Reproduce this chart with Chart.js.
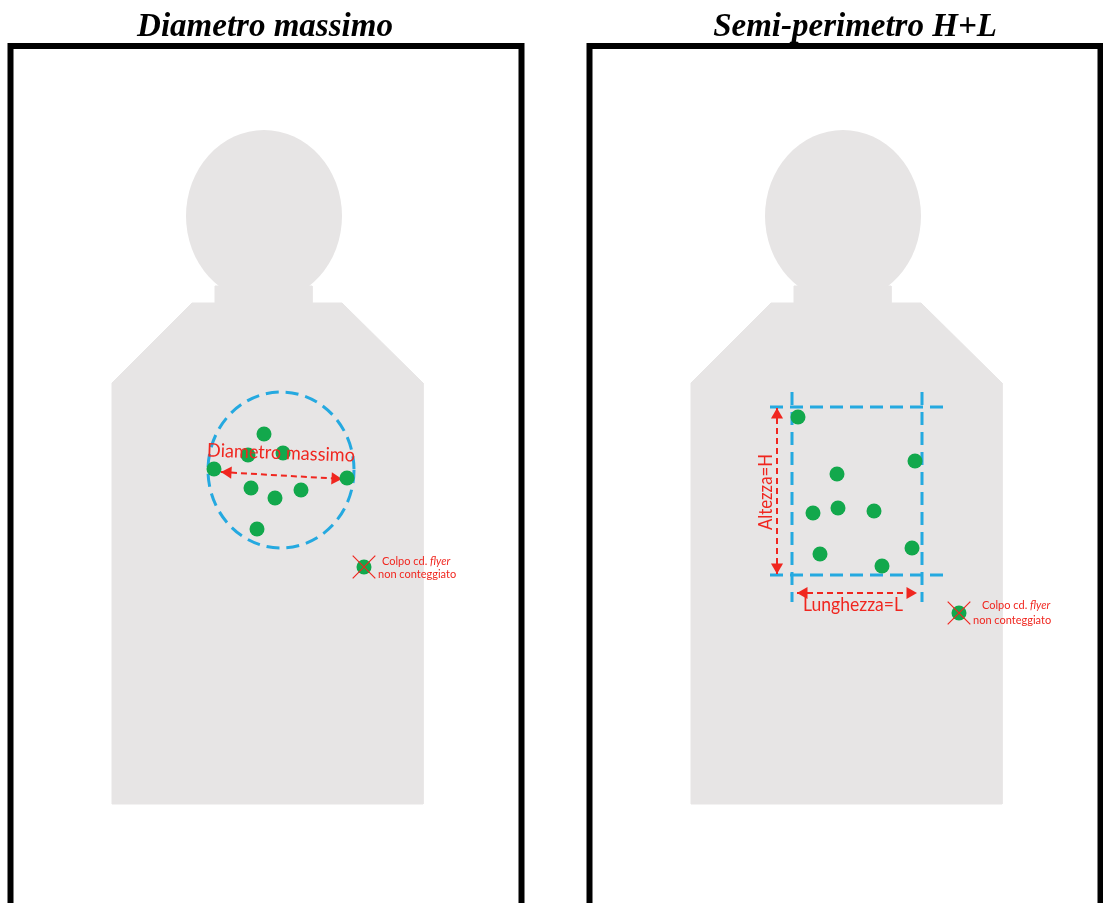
<!DOCTYPE html>
<html><head><meta charset="utf-8">
<script src="https://cdn.jsdelivr.net/npm/chart.js@4/dist/chart.umd.min.js"></script>
<style>
html,body{margin:0;padding:0;background:#fff;overflow:hidden;width:1103px;height:903px;}
.panel{position:absolute;top:0;width:540px;height:903px;}
canvas{display:block;}
</style></head><body>
<div class="panel" style="left:0"><canvas id="c1" width="540" height="903"></canvas></div>
<div class="panel" style="left:579px"><canvas id="c2" width="540" height="903"></canvas></div>
<script>
// ---------- data (panel coordinates) ----------
const panelTitles = ['Diametro massimo', 'Semi-perimetro H+L'];
const frameX = [10.5, 10.5, 521.5, 521.5];
const frameY = [940, 46, 46, 940];
const bodyX = [112, 192, 215, 215, 312, 312, 342, 423, 423, 112, 112];
const bodyY = [383, 303, 303, 286, 286, 303, 303, 383, 804, 804, 383];
const headCenter = [264, 216];
const headRadius = [78, 86];

// left: maximum diameter
const leftShotX = [264, 248, 283, 214, 347, 251, 275, 301, 257];
const leftShotY = [434, 455, 453, 469, 478, 488, 498, 490, 529];
const leftCircleCenter = [281, 470];
const leftCircleRadius = [73, 78];
const leftArrowX = [221, 342];
const leftArrowY = [472, 479];
const leftFlyerX = [364];
const leftFlyerY = [567];

// right: semi-perimeter H+L
const rightShotX = [219, 336, 258, 234, 259, 295, 241, 333, 303];
const rightShotY = [417, 461, 474, 513, 508, 511, 554, 548, 566];
const boxX = [213, 343];
const boxY = [407, 575];
const boxGuideX = [191, 370];
const boxGuideY = [392, 602];
const heightArrowX = [198, 198];
const heightArrowY = [408, 574];
const lengthArrowX = [218, 338];
const lengthArrowY = [593, 593];
const rightFlyerX = [380];
const rightFlyerY = [613];

// ---------- styles ----------
const GREEN = '#12a84c', BLUE = '#25a9e0', RED = '#f0261f', SIL = '#e7e5e5';

const pts = (xs, ys) => xs.map((x, i) => ({x, y: ys[i]}));

function lineDS(xs, ys, color, width, dash, order) {
  return {data: pts(xs, ys), showLine: true, borderColor: color, borderWidth: width,
    borderDash: dash || [], pointRadius: 0, fill: false, tension: 0, order,
    borderJoinStyle: 'miter', borderCapStyle: 'butt'};
}
function arrowHeads(xs, ys, color, r, order) {
  const dx = xs[1] - xs[0], dy = ys[1] - ys[0], len = Math.hypot(dx, dy);
  const ux = dx / len, uy = dy / len;
  const rot = Math.atan2(ux, -uy) * 180 / Math.PI;
  return {data: [{x: xs[0] + ux * r, y: ys[0] + uy * r}, {x: xs[1] - ux * r, y: ys[1] - uy * r}],
    showLine: false, pointStyle: 'triangle', pointRadius: r, pointRotation: [rot + 180, rot],
    backgroundColor: color, borderColor: color, borderWidth: 0, order};
}
function shotsDS(xs, ys, order) {
  return {data: pts(xs, ys), showLine: false, pointStyle: 'circle', pointRadius: 7.5,
    backgroundColor: GREEN, borderWidth: 0, order};
}
function flyerDS(xs, ys) {
  return [shotsDS(xs, ys, 2),
    {data: pts(xs, ys), showLine: false, pointStyle: 'crossRot', pointRadius: 16,
      borderColor: RED, borderWidth: 1.2, backgroundColor: RED, order: 1}];
}
function baseDS() {
  return [
    lineDS(frameX, frameY, '#000', 6, [], 20),
    Object.assign(lineDS(bodyX, bodyY, SIL, 1, [], 19), {fill: 'shape', backgroundColor: SIL, id: 'body'})
  ];
}

const drawPlugin = {
  id: 'targetDraw',
  beforeDatasetsDraw(chart, args, o) {
    const ctx = chart.ctx, X = chart.scales.x, Y = chart.scales.y;
    ctx.save();
    ctx.fillStyle = SIL;
    ctx.beginPath();
    const cx = X.getPixelForValue(headCenter[0]), cy = Y.getPixelForValue(headCenter[1]);
    ctx.ellipse(cx, cy, Math.abs(X.getPixelForValue(headCenter[0] + headRadius[0]) - cx),
      Math.abs(Y.getPixelForValue(headCenter[1] + headRadius[1]) - cy), 0, 0, Math.PI * 2);
    ctx.fill();
    ctx.restore();
  },
  afterDatasetDraw(chart, args, o) {
    const ds = chart.data.datasets[args.index];
    if (ds.id !== 'body' || !o.circle) return;
    const ctx = chart.ctx, X = chart.scales.x, Y = chart.scales.y;
    const c = o.circle;
    ctx.save();
    ctx.strokeStyle = BLUE; ctx.lineWidth = 3; ctx.setLineDash([13, 7]);
    const cx = X.getPixelForValue(c.center[0]), cy = Y.getPixelForValue(c.center[1]);
    ctx.beginPath();
    ctx.ellipse(cx, cy, Math.abs(X.getPixelForValue(c.center[0] + c.radius[0]) - cx),
      Math.abs(Y.getPixelForValue(c.center[1] + c.radius[1]) - cy), 0, 0, Math.PI * 2);
    ctx.stroke();
    ctx.restore();
  },
  afterDraw(chart, args, o) {
    const ctx = chart.ctx, X = chart.scales.x, Y = chart.scales.y;
    ctx.save();
    // title
    ctx.fillStyle = '#000';
    ctx.font = 'italic bold 33px "Liberation Serif", "DejaVu Serif", serif';
    ctx.textAlign = 'center'; ctx.textBaseline = 'alphabetic';
    ctx.fillText(o.title, X.getPixelForValue(o.titleX), 36);
    // labels
    ctx.fillStyle = RED;
    (o.labels || []).forEach(l => {
      ctx.save();
      ctx.translate(X.getPixelForValue(l.x), Y.getPixelForValue(l.y));
      ctx.rotate(l.rot * Math.PI / 180);
      ctx.font = l.size + 'px Lato, "Open Sans", sans-serif';
      ctx.textAlign = 'center'; ctx.textBaseline = 'middle';
      ctx.fillText(l.text, 0, 0, l.maxW);
      ctx.restore();
    });
    // flyer note
    const f = o.flyer;
    ctx.textAlign = 'left'; ctx.textBaseline = 'middle';
    ctx.font = '11px Lato, "Open Sans", sans-serif';
    const x1 = X.getPixelForValue(f.x1), y1 = Y.getPixelForValue(f.y1);
    const part = 'Colpo cd. ';
    ctx.fillText(part, x1, y1);
    const w = ctx.measureText(part).width;
    ctx.font = 'italic 11px Lato, "Open Sans", sans-serif';
    ctx.fillText('flyer', x1 + w, y1);
    ctx.font = '11px Lato, "Open Sans", sans-serif';
    ctx.fillText('non conteggiato', X.getPixelForValue(f.x2), Y.getPixelForValue(f.y2));
    ctx.restore();
  }
};

function makeChart(id, datasets, pluginOpts) {
  return new Chart(document.getElementById(id), {
    type: 'scatter',
    data: {datasets},
    plugins: [drawPlugin],
    options: {
      responsive: false, animation: false, devicePixelRatio: 1, events: [],
      layout: {padding: 0, autoPadding: false},
      scales: {
        x: {type: 'linear', min: 0, max: 540, display: false},
        y: {type: 'linear', min: 0, max: 903, reverse: true, display: false}
      },
      plugins: {legend: {display: false}, tooltip: {enabled: false}, targetDraw: pluginOpts}
    }
  });
}

// left chart
makeChart('c1', [
  ...baseDS(),
  lineDS(leftArrowX, leftArrowY, RED, 2, [6, 4], 5),
  arrowHeads(leftArrowX, leftArrowY, RED, 7, 4),
  shotsDS(leftShotX, leftShotY, 3),
  ...flyerDS(leftFlyerX, leftFlyerY)
], {
  title: panelTitles[0], titleX: 265,
  circle: {center: leftCircleCenter, radius: leftCircleRadius},
  labels: [{text: 'Diametro massimo', x: 281, y: 453, rot: 2, size: 19, maxW: 148}],
  flyer: {x1: 382, y1: 561, x2: 378, y2: 574}
});

// right chart
makeChart('c2', [
  ...baseDS(),
  lineDS([boxX[0], boxX[0]], boxGuideY, BLUE, 3, [13, 7], 8),
  lineDS([boxX[1], boxX[1]], boxGuideY, BLUE, 3, [13, 7], 8),
  lineDS(boxGuideX, [boxY[0], boxY[0]], BLUE, 3, [13, 7], 8),
  lineDS(boxGuideX, [boxY[1], boxY[1]], BLUE, 3, [13, 7], 8),
  lineDS(heightArrowX, heightArrowY, RED, 2, [6, 4], 5),
  arrowHeads(heightArrowX, heightArrowY, RED, 7, 4),
  lineDS(lengthArrowX, lengthArrowY, RED, 2, [6, 4], 5),
  arrowHeads(lengthArrowX, lengthArrowY, RED, 7, 4),
  shotsDS(rightShotX, rightShotY, 3),
  ...flyerDS(rightFlyerX, rightFlyerY)
], {
  title: panelTitles[1], titleX: 276,
  labels: [
    {text: 'Altezza=H', x: 187, y: 492, rot: -90, size: 19, maxW: 76},
    {text: 'Lunghezza=L', x: 274, y: 605, rot: 0, size: 19, maxW: 100}
  ],
  flyer: {x1: 403, y1: 605, x2: 394, y2: 620}
});
</script>
</body></html>
